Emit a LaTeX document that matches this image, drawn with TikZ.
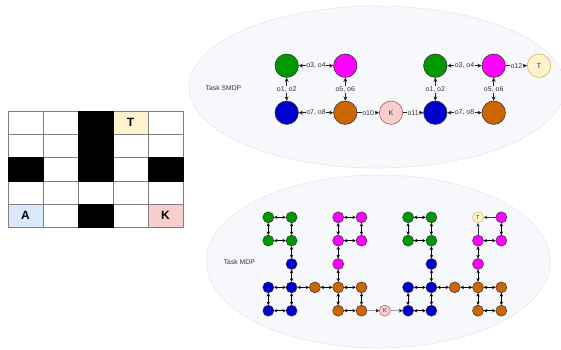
\documentclass[tikz,border=0pt]{standalone}
\usepackage{fontspec}
\setmainfont{Liberation Sans}
\usetikzlibrary{arrows.meta}
\definecolor{gcol}{HTML}{009900}
\definecolor{mcol}{HTML}{FF00FF}
\definecolor{bcol}{HTML}{0000CC}
\definecolor{ocol}{HTML}{CC6600}
\definecolor{kfill}{HTML}{F8CECC}
\definecolor{kline}{HTML}{B85450}
\definecolor{tfill}{HTML}{FFF2CC}
\definecolor{tline}{HTML}{D6B656}
\definecolor{afill}{HTML}{DAE8FC}
\definecolor{ellfill}{HTML}{F7F8FC}
\definecolor{ellline}{HTML}{E2E7F1}
\definecolor{txt}{HTML}{333333}
\tikzset{
  cellbox/.style={draw=gray, line width=0.6pt, minimum width=35pt, minimum height=23.3pt, inner sep=0pt, outer sep=0pt, font=\bfseries\fontsize{12}{13}\selectfont},
  wallbox/.style={cellbox, draw=black, fill=black},
  bigstate/.style={circle, draw=black!80, line width=0.6pt, minimum size=23.4pt, inner sep=0pt, font=\fontsize{7}{8}\selectfont, text=txt},
  smallstate/.style={circle, draw=black!80, line width=0.5pt, minimum size=11pt, inner sep=0pt, font=\fontsize{5.8}{6}\selectfont, text=txt},
  elabel/.style={fill=ellfill, inner sep=0.6pt, font=\fontsize{7}{8}\selectfont, text=txt},
  bigedge/.style={line width=0.6pt, draw=black!85, {Stealth[length=4.2pt,width=4pt]}-{Stealth[length=4.2pt,width=4pt]}},
  bigone/.style={line width=0.6pt, draw=black!85, -{Stealth[length=4.2pt,width=4pt]}},
  smalledge/.style={line width=0.5pt, draw=black, {Stealth[length=3.4pt,width=3.4pt]}-{Stealth[length=3.4pt,width=3.4pt]}},
  smallone/.style={line width=0.5pt, draw=black!80, -{Stealth[length=3.4pt,width=3.4pt]}},
  keyedge/.style={line width=1pt, draw=gray!75, -{Stealth[length=3.4pt,width=3.6pt,color=black]}},
  region/.style={draw=ellline, fill=ellfill, line width=0.6pt},
  tasklabel/.style={font=\fontsize{6.8}{8}\selectfont, text=txt}
}
\begin{document}
\begin{tikzpicture}[x=1pt, y=-1pt]
\useasboundingbox (0,0) rectangle (561,349);

% ---------- grid world ----------
\foreach \r in {0,...,4}
  \foreach \c in {0,...,4}
    \node[cellbox] (cell-\r-\c) at ({25.5+35*\c},{122.65+23.3*\r}) {};
\node[cellbox, fill=tfill] (cell-0-3) at ({25.5+35*3},{122.65}) {T};
\node[cellbox, fill=afill] (cell-4-0) at ({25.5},{122.65+23.3*4}) {A};
\node[cellbox, fill=kfill] (cell-4-4) at ({25.5+35*4},{122.65+23.3*4}) {K};
\foreach \r/\c in {0/2,1/2,2/2,2/0,2/4,4/2}
  \node[wallbox] (wall-\r-\c) at ({25.5+35*\c},{122.65+23.3*\r}) {};

% ---------- task SMDP ----------
\draw[region] (377,87) ellipse [x radius=188, y radius=81];
\node[tasklabel] (smdp) at (223.5,87.7) {Task SMDP};

\node[bigstate, fill=gcol] (g1) at (286.7,65.7) {};
\node[bigstate, fill=mcol] (m1) at (345.3,65.7) {};
\node[bigstate, fill=bcol] (b1) at (286.7,112.7) {};
\node[bigstate, fill=ocol] (o1) at (345.3,112.7) {};
\node[bigstate, fill=kfill, draw=kline] (key) at (391,112.7) {K};
\node[bigstate, fill=gcol] (g2) at (435.3,65.7) {};
\node[bigstate, fill=mcol] (m2) at (493.7,65.7) {};
\node[bigstate, fill=bcol] (b2) at (435.3,112.7) {};
\node[bigstate, fill=ocol] (o2) at (493.7,112.7) {};
\node[bigstate, fill=tfill, draw=tline] (goal) at (539,65.7) {T};

\draw[bigedge] (g1) -- node[elabel] {o3, o4} (m1);
\draw[bigedge] (g1) -- node[elabel] {o1, o2} (b1);
\draw[bigedge] (m1) -- node[elabel] {o5, o6} (o1);
\draw[bigedge] (b1) -- node[elabel] {o7, o8} (o1);
\draw[bigone] (o1) -- node[elabel] {o10} (key);
\draw[bigone] (key) -- node[elabel] {o11} (b2);
\draw[bigedge] (g2) -- node[elabel] {o3, o4} (m2);
\draw[bigedge] (g2) -- node[elabel] {o1, o2} (b2);
\draw[bigedge] (m2) -- node[elabel] {o5, o6} (o2);
\draw[bigedge] (b2) -- node[elabel] {o7, o8} (o2);
\draw[bigone] (m2) -- node[elabel] {o12} (goal);

% ---------- task MDP ----------
\draw[region] (378.3,261.5) ellipse [x radius=172, y radius=86.5];
\node[tasklabel] (mdp) at (239.3,262.3) {Task MDP};

\foreach \c/\r in {0/0,1/0,0/1,1/1,6/0,7/0,6/1,7/1}
  \node[smallstate, fill=gcol] (s-\c-\r) at ({268.3+23.3*\c},{217.3+23.35*\r}) {};
\foreach \c/\r in {3/0,4/0,3/1,4/1,3/2,10/0,9/1,10/1,9/2}
  \node[smallstate, fill=mcol] (s-\c-\r) at ({268.3+23.3*\c},{217.3+23.35*\r}) {};
\foreach \c/\r in {1/2,0/3,1/3,0/4,1/4,7/2,6/3,7/3,6/4,7/4}
  \node[smallstate, fill=bcol] (s-\c-\r) at ({268.3+23.3*\c},{217.3+23.35*\r}) {};
\foreach \c/\r in {2/3,3/3,4/3,3/4,4/4,8/3,9/3,10/3,9/4,10/4}
  \node[smallstate, fill=ocol] (s-\c-\r) at ({268.3+23.3*\c},{217.3+23.35*\r}) {};
\node[smallstate, fill=kfill, draw=kline] (s-5-4) at ({268.3+23.3*5},{217.3+23.35*4}) {K};
\node[smallstate, fill=tfill, draw=tline] (s-9-0) at ({268.3+23.3*9},{217.3}) {T};

\foreach \a/\b in {0-0/1-0, 0-0/0-1, 1-0/1-1, 0-1/1-1, 1-1/1-2, 1-2/1-3,
                   0-3/1-3, 0-3/0-4, 1-3/1-4, 0-4/1-4, 1-3/2-3, 2-3/3-3,
                   3-3/4-3, 3-3/3-4, 4-3/4-4, 3-4/4-4, 3-2/3-3, 3-1/3-2,
                   3-0/4-0, 3-0/3-1, 4-0/4-1, 3-1/4-1,
                   6-0/7-0, 6-0/6-1, 7-0/7-1, 6-1/7-1, 7-1/7-2, 7-2/7-3,
                   6-3/7-3, 6-3/6-4, 7-3/7-4, 6-4/7-4, 7-3/8-3, 8-3/9-3,
                   9-3/10-3, 9-3/9-4, 10-3/10-4, 9-4/10-4, 9-2/9-3, 9-1/9-2,
                   10-0/10-1, 9-1/10-1}
  \draw[smalledge] (s-\a) -- (s-\b);
\draw[smallone] (s-10-0) -- (s-9-0);
\draw[smallone] (s-9-1) -- (s-9-0);
\draw[keyedge] (s-4-4) -- (s-5-4);
\draw[keyedge] (s-5-4) -- (s-6-4);
\end{tikzpicture}
\end{document}
